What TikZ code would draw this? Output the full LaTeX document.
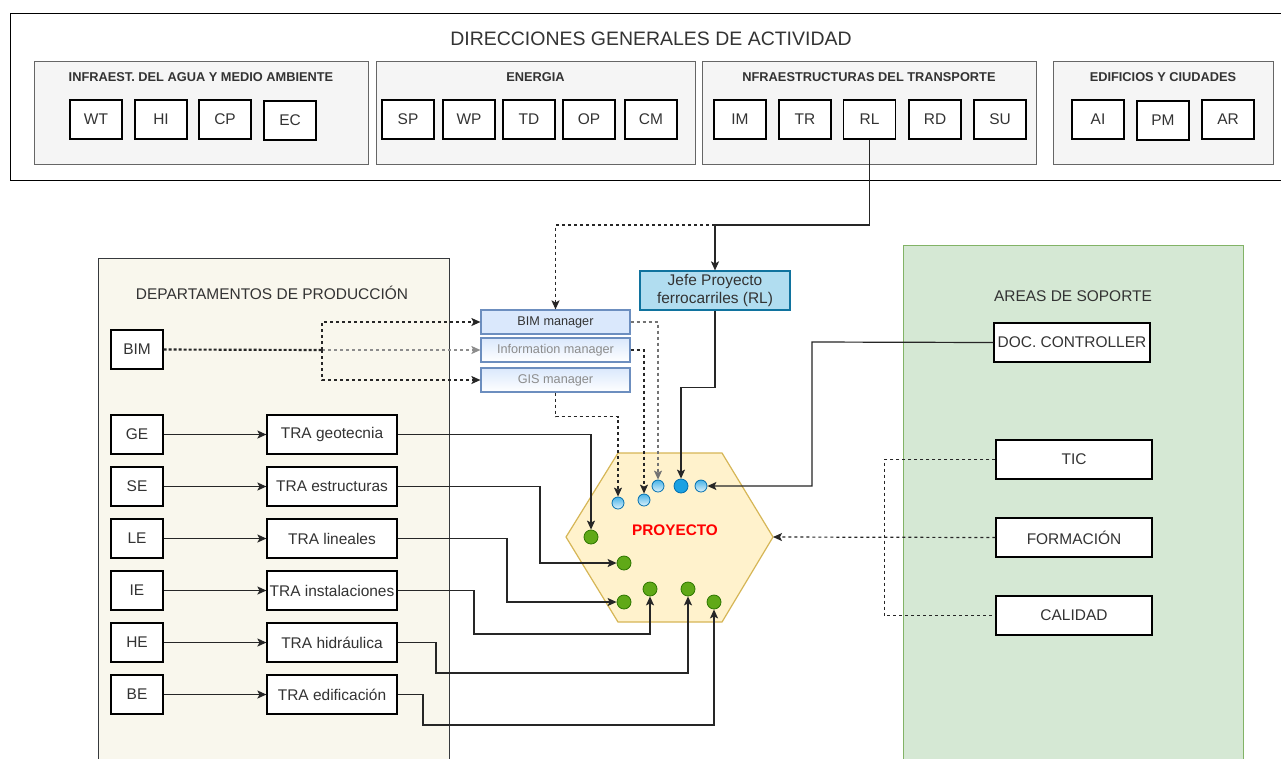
\documentclass[tikz,border=0pt]{standalone}
\usepackage{fontspec}
\setmainfont{Liberation Sans}
\usetikzlibrary{arrows.meta,shapes.geometric,calc}
\definecolor{grpfill}{HTML}{F5F5F5}
\definecolor{grpdraw}{HTML}{666666}
\definecolor{depfill}{HTML}{F9F7ED}
\definecolor{depdraw}{HTML}{36393D}
\definecolor{supfill}{HTML}{D5E8D4}
\definecolor{supdraw}{HTML}{82B366}
\definecolor{jefefill}{HTML}{B1DDF0}
\definecolor{jefedraw}{HTML}{10739E}
\definecolor{mgrfill}{HTML}{DAE8FC}
\definecolor{mgrdraw}{HTML}{6C8EBF}
\definecolor{hexfill}{HTML}{FFF2CC}
\definecolor{hexdraw}{HTML}{D6B656}
\definecolor{gfill}{HTML}{60A917}
\definecolor{gdraw}{HTML}{2D7600}
\definecolor{bfill}{HTML}{1BA1E2}
\definecolor{bdraw}{HTML}{006EAF}
\definecolor{txt}{HTML}{333333}
\tikzset{
  mainfont/.style={font=\fontsize{11.6pt}{13.5pt}\selectfont},
  sbox/.style={draw=black, fill=white, line width=0.9pt, minimum width=39pt, minimum height=29.25pt, inner sep=0pt, mainfont, text=txt},
  tbox/.style={sbox, minimum width=97.5pt},
  wbox/.style={sbox, minimum width=117pt},
  grp/.style={draw=grpdraw, fill=grpfill, line width=0.75pt, minimum height=77.25pt, inner sep=0pt},
  grptitle/.style={font=\bfseries\fontsize{9.6pt}{11pt}\selectfont, text=txt},
  mgr/.style={draw=mgrdraw, line width=0.9pt, top color=mgrfill, bottom color=white, minimum width=111.75pt, minimum height=18pt, inner sep=0pt, font=\fontsize{9.5pt}{11pt}\selectfont},
  gdot/.style={circle, draw=gdraw, fill=gfill, minimum size=10.5pt, inner sep=0pt, line width=0.6pt},
  bdot/.style={circle, draw=bdraw, top color=bfill!80, bottom color=bfill!15, minimum size=9pt, inner sep=0pt, line width=0.6pt},
  bdotbig/.style={circle, draw=bdraw, fill=bfill, minimum size=10.5pt, inner sep=0pt, line width=0.6pt},
  line/.style={draw=black!85, line width=0.9pt},
  conn/.style={line, -{Stealth[length=6.75pt,width=6pt,inset=1.5pt]}},
  dline/.style={line, dash pattern=on 2.25pt off 2.25pt},
  dconn/.style={dline, -{Stealth[length=6.75pt,width=6pt,inset=1.5pt]}},
}
\begin{document}
\begin{tikzpicture}[x=0.75pt, y=-0.75pt]
\useasboundingbox (0,0) rectangle (1281,758);
\clip (0,0) rectangle (1281,758);
\fill[white] (0,0) rectangle (1281,758);

% top frame
\node[draw=black, fill=white, line width=0.9pt, minimum width=967.5pt, minimum height=125.25pt, inner sep=0pt, anchor=north west] (top) at (10,13) {};
\node[font=\fontsize{14.6pt}{17pt}\selectfont, text=txt] (toptitle) at (651,39) {DIRECCIONES GENERALES DE ACTIVIDAD};

% groups
\node[grp, minimum width=250.5pt] (g1) at (201,112.5) {};
\node[grp, minimum width=239.25pt] (g2) at (535.5,112.5) {};
\node[grp, minimum width=250.5pt] (g3) at (869,112.5) {};
\node[grp, minimum width=165pt] (g4) at (1163,112.5) {};
\node[grptitle] (g1t) at (201,77) {INFRAEST. DEL AGUA Y MEDIO AMBIENTE};
\node[grptitle] (g2t) at (535.5,77) {ENERGIA};
\node[grptitle] (g3t) at (869,77) {NFRAESTRUCTURAS DEL TRANSPORTE};
\node[grptitle] (g4t) at (1163,77) {EDIFICIOS Y CIUDADES};

\node[sbox] (WT) at (96,119.5) {WT};
\node[sbox] (HI) at (161,119.5) {HI};
\node[sbox] (CP) at (225,119.5) {CP};
\node[sbox] (EC) at (290,120.5) {EC};
\node[sbox] (SP) at (408,119.5) {SP};
\node[sbox] (WP) at (469,119.5) {WP};
\node[sbox] (TD) at (529,119.5) {TD};
\node[sbox] (OP) at (589,119.5) {OP};
\node[sbox] (CM) at (651,119.5) {CM};
\node[sbox] (IM) at (740,119.5) {IM};
\node[sbox] (TR) at (805,119.5) {TR};
\node[sbox] (RL) at (869.5,119.5) {RL};
\node[sbox] (RD) at (935,119.5) {RD};
\node[sbox] (SU) at (1000,119.5) {SU};
\node[sbox] (AI) at (1098,119.5) {AI};
\node[sbox] (PM) at (1163,120.5) {PM};
\node[sbox] (AR) at (1228,119.5) {AR};

% departments
\node[draw=depdraw, fill=depfill, line width=0.9pt, minimum width=263.25pt, minimum height=390pt, inner sep=0pt, anchor=north west] (dep) at (98,258) {};
\node[mainfont, text=txt] (dept) at (272,293) {DEPARTAMENTOS DE PRODUCCIÓN};
% support
\node[draw=supdraw, fill=supfill, line width=0.9pt, minimum width=255pt, minimum height=397.5pt, inner sep=0pt, anchor=north west] (sup) at (903,245) {};
\node[mainfont, text=txt] (supt) at (1073,296) {AREAS DE SOPORTE};

\node[sbox] (BIM) at (137,349.5) {BIM};
\node[sbox] (GE) at (137,434.5) {GE};
\node[sbox] (SE) at (137,486.5) {SE};
\node[sbox] (LE) at (137,538.5) {LE};
\node[sbox] (IE) at (137,590.5) {IE};
\node[sbox] (HE) at (137,642.5) {HE};
\node[sbox] (BE) at (137,694.5) {BE};
\node[tbox] (TRAgeo) at (332,434.5) {TRA geotecnia};
\node[tbox] (TRAest) at (332,486.5) {TRA estructuras};
\node[tbox] (TRAlin) at (332,538.5) {TRA lineales};
\node[tbox] (TRAins) at (332,590.5) {TRA instalaciones};
\node[tbox] (TRAhid) at (332,642.5) {TRA hidráulica};
\node[tbox] (TRAedi) at (332,694.5) {TRA edificación};

\node[wbox] (DOC) at (1072,342.5) {DOC. CONTROLLER};
\node[wbox] (TIC) at (1074,459.5) {TIC};
\node[wbox] (FORM) at (1074,537.5) {FORMACIÓN};
\node[wbox] (CAL) at (1074,615.5) {CALIDAD};

% managers and jefe
\node[mgr, top color=mgrfill, bottom color=mgrfill, text=txt] (bimm) at (555.5,322) {BIM manager};
\node[mgr, text=black!45] (info) at (555.5,350) {Information manager};
\node[mgr, text=black!45] (gis) at (555.5,380) {GIS manager};
\node[draw=jefedraw, fill=jefefill, line width=0.9pt, minimum width=112.5pt, minimum height=29.25pt, inner sep=0pt, align=center, font=\fontsize{11.6pt}{13pt}\selectfont, text=txt] (jefe) at (715,290.5) {Jefe Proyecto\\ferrocarriles (RL)};

% hexagon
\coordinate (hexL) at (566,537);
\coordinate (hexR) at (773,537);
\filldraw[fill=hexfill, draw=hexdraw, line width=0.9pt] (hexL) -- (618,453) -- (722,453) -- (hexR) -- (722,622) -- (618,622) -- cycle;
\node[font=\bfseries\fontsize{11.5pt}{13pt}\selectfont, text=red] (proy) at (675,530) {PROYECTO};

% dots
\node[bdot] (b1) at (618,503) {};
\node[bdot] (b2) at (644,500) {};
\node[bdot] (b3) at (658,486) {};
\node[bdotbig] (b4) at (681,486) {};
\node[bdot] (b5) at (701,486) {};
\node[gdot] (d1) at (591,537) {};
\node[gdot] (d2) at (624,563) {};
\node[gdot] (d3) at (624,602) {};
\node[gdot] (d4) at (650,589) {};
\node[gdot] (d5) at (688,589) {};
\node[gdot] (d6) at (714,602) {};

% connectors top
\coordinate (split) at (715,225);
\draw[line] (RL.south) |- (split);
\draw[conn] (split) -- (jefe.north);
\draw[dconn] (split) -| (bimm.north);
\draw[conn] (jefe.south) -- ++(0,77) -| (b4.north);
\draw[conn] (DOC.west) -- (812,342) |- (b5.east);

% BIM connectors
\coordinate (bsplit) at (322,350);
\draw[line, dash pattern=on 2.25pt off 1.5pt, line width=1.6pt] (BIM.east) -- (bsplit);
\draw[dconn, draw=black!45] (bsplit) -- (info.west);
\draw[dconn] (bsplit) |- (bimm.west);
\draw[dconn] (bsplit) |- (gis.west);
\draw[dconn, draw=black!55] (bimm.east) -| (b3.north);
\draw[dconn] (info.east) -| (b2.north);
\draw[dconn] (gis.south) -- ++(0,24) -| (b1.north);

% support connectors
\draw[dconn] (FORM.west) -- (hexR);
\draw[dline, line width=0.7pt] (TIC.west) -- ++(-111,0) |- (CAL.west);

% production connectors
\draw[conn] (GE.east) -- (TRAgeo.west);
\draw[conn] (SE.east) -- (TRAest.west);
\draw[conn] (LE.east) -- (TRAlin.west);
\draw[conn] (IE.east) -- (TRAins.west);
\draw[conn] (HE.east) -- (TRAhid.west);
\draw[conn] (BE.east) -- (TRAedi.west);

\draw[conn] (TRAgeo.east) -| (d1.north);
\draw[conn] (TRAest.east) -- (540,486.5) |- (d2.west);
\draw[conn] (TRAlin.east) -- (507,538.5) |- (d3.west);
\draw[conn] (TRAins.east) -- (474,590.5) |- (650,634) -- (d4.south);
\draw[conn] (TRAhid.east) -- (436,642.5) |- (688,673) -- (d5.south);
\draw[conn] (TRAedi.east) -- (423,694.5) |- (714,725) -- (d6.south);
\end{tikzpicture}
\end{document}
